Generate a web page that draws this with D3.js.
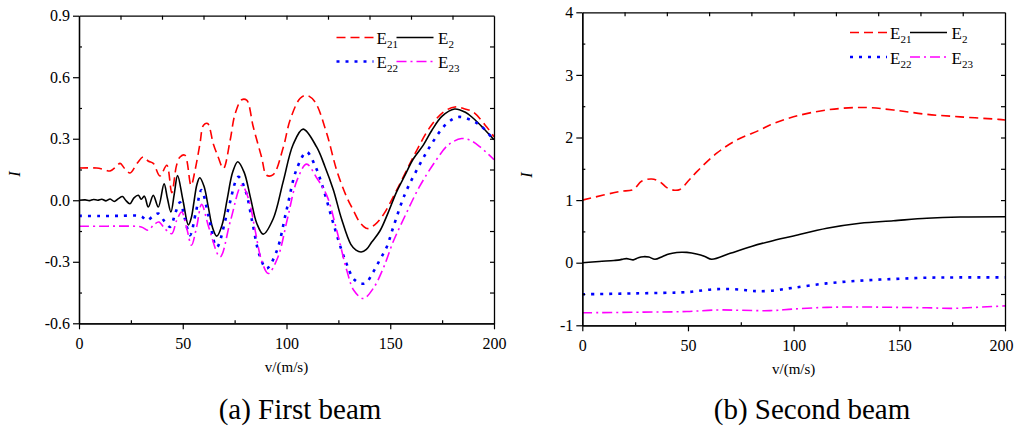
<!DOCTYPE html>
<html><head><meta charset="utf-8">
<script src="https://cdn.jsdelivr.net/npm/d3@7"></script>
<style>body{margin:0;background:#fff}svg{display:block}</style>
</head><body>
<svg id="c" width="1014" height="426"></svg>
<script>
// ---------- Data (v in m/s, I) ----------
const xTicks = [0, 50, 100, 150, 200];
const yTicksA = [-0.6, -0.3, 0.0, 0.3, 0.6, 0.9];
const yTicksB = [-1, 0, 1, 2, 3, 4];
const seriesNames = ["E21", "E2", "E22", "E23"];
const captions = ["(a) First beam", "(b) Second beam"];

// (a) First beam
const aE21 = [[0,0.157],[8.5,0.157],[12,0.15],[15,0.143],[18,0.165],[19.8,0.18],[22,0.155],[24.6,0.133],[28,0.18],[31,0.211],[33.5,0.19],[35.8,0.18],[39,0.118],[42.3,0.171],[44.7,0.037],[47,0.17],[48.7,0.211],[51,0.22],[54,0.073],[56,0.15],[58.3,0.276],[60,0.366],[62,0.374],[64.7,0.276],[67.1,0.21],[69.6,0.155],[72.8,0.29],[75.2,0.42],[78.4,0.49],[80.8,0.488],[84,0.357],[88,0.21],[90.4,0.122],[93.6,0.125],[98.5,0.26],[101.7,0.39],[106.5,0.496],[109.7,0.512],[113.7,0.48],[119.4,0.325],[124.2,0.146],[129,0.016],[132.2,-0.049],[135.5,-0.11],[139,-0.138],[142.5,-0.12],[146.7,-0.07],[153.1,0.049],[161.1,0.211],[169.2,0.357],[175.6,0.43],[181.2,0.455],[186,0.445],[190,0.43],[196.5,0.357],[200,0.309]];
const aE2 = [[0,0],[3,0.002],[5,-0.002],[7,0.004],[9,0],[11,0.005],[13,-0.003],[15,0.006],[17,-0.006],[19,0.008],[21,0.018],[22.5,0.0],[24.5,-0.017],[26.5,0.012],[28.6,0.024],[30,0.005],[31.5,0.02],[33.4,-0.033],[35.8,0.024],[38.2,-0.033],[41,0.08],[42.6,0.01],[44.3,-0.057],[45.9,0.03],[47.5,0.12],[50.1,0.0],[52.7,-0.12],[54.1,-0.086],[55.45,-0.005],[56.8,0.076],[58.2,0.11],[60.25,0.068],[62.3,-0.0325],[64.35,-0.133],[66.4,-0.175],[68.9,-0.122],[71.45,0.0065],[74,0.135],[76.5,0.188],[79.6,0.136],[82.65,0.0115],[85.7,-0.113],[88.8,-0.165],[93.6,-0.09],[98.4,0.091],[103.2,0.272],[108,0.347],[114.5,0.26],[118.5,0.165],[122.6,0.05],[126.5,-0.09],[131,-0.215],[133.5,-0.243],[136,-0.252],[138.5,-0.24],[141,-0.205],[145,-0.15],[149,-0.06],[153,0.04],[157,0.12],[161,0.2],[166,0.27],[170,0.34],[175,0.41],[181,0.445],[186,0.43],[190,0.4],[195,0.35],[200,0.295]];
const aE22 = [[0,-0.076],[10,-0.077],[20,-0.076],[30,-0.078],[32.6,-0.098],[35.5,-0.08],[38.2,-0.065],[41,-0.1],[43.9,-0.13],[46.5,-0.06],[48.7,-0.01],[51,-0.09],[53.5,-0.17],[56.5,-0.05],[59,0.05],[62.5,-0.08],[66.4,-0.228],[71.5,-0.06],[76.8,0.114],[80.2,0.048],[83.6,-0.11],[87,-0.268],[90.4,-0.333],[95.2,-0.25],[100,-0.049],[104.9,0.152],[109.7,0.235],[113.7,0.17],[117.7,0.057],[122.6,-0.114],[128.2,-0.29],[133,-0.39],[137.8,-0.406],[141.8,-0.35],[145,-0.29],[148.3,-0.228],[151.5,-0.13],[157.2,0.033],[163.6,0.163],[170,0.276],[177.2,0.374],[182.8,0.406],[188,0.395],[193.3,0.366],[200,0.293]];
const aE23 = [[0,-0.127],[10,-0.127],[20,-0.126],[30,-0.13],[33.4,-0.146],[36,-0.12],[38.5,-0.106],[41.5,-0.14],[44.7,-0.163],[47,-0.1],[49.5,-0.057],[52,-0.14],[54.2,-0.219],[56.7,-0.13],[59.1,-0.02],[62.5,-0.13],[68,-0.276],[73,-0.1],[78.4,0.073],[81.6,0.01],[84.8,-0.142],[88,-0.294],[91.2,-0.357],[95.8,-0.279],[100.45,-0.09],[105.1,0.098],[109.7,0.176],[114.5,0.11],[119.4,0.024],[124.2,-0.146],[129,-0.34],[132.5,-0.44],[137,-0.479],[141.8,-0.43],[146.7,-0.33],[151.5,-0.2],[157.9,-0.06],[164.3,0.07],[172.4,0.2],[178,0.27],[184.4,0.301],[189,0.29],[193.3,0.26],[200,0.198]];

// (b) Second beam
const bE21 = [[0,1.0],[10,1.08],[18,1.14],[24.2,1.17],[28,1.3],[32.8,1.337],[36.8,1.29],[40,1.2],[43.1,1.16],[46.2,1.17],[50,1.3],[54.1,1.45],[63.6,1.75],[73.1,1.96],[84,2.12],[88.8,2.2],[99.9,2.33],[115.7,2.44],[133,2.48],[147.2,2.44],[163,2.37],[178.8,2.33],[196.9,2.29],[200,2.28]];
const bE2 = [[0,0],[8,0.02],[15,0.035],[17.8,0.045],[19.5,0.06],[21,0.065],[22.5,0.055],[24.1,0.045],[26.5,0.08],[28.9,0.096],[31.5,0.09],[34.4,0.054],[38,0.1],[41,0.14],[44.7,0.163],[47,0.168],[49.5,0.165],[54,0.14],[58,0.1],[61.2,0.054],[70,0.15],[80,0.26],[88.8,0.34],[99.9,0.427],[115.7,0.55],[131.4,0.63],[147.2,0.67],[163,0.71],[178.8,0.73],[200,0.735]];
const bE22 = [[0,-0.505],[25,-0.49],[49.5,-0.47],[55,-0.45],[62,-0.425],[68.2,-0.42],[75,-0.43],[80.9,-0.452],[88.8,-0.45],[99.9,-0.40],[115.7,-0.33],[131.4,-0.287],[147.2,-0.26],[163,-0.24],[178.8,-0.235],[200,-0.235]];
const bE23 = [[0,-0.8],[28.9,-0.79],[49.5,-0.78],[63.6,-0.755],[75,-0.76],[88.8,-0.766],[99.9,-0.74],[115.7,-0.713],[131.4,-0.707],[147.2,-0.713],[163,-0.72],[175,-0.73],[185,-0.715],[200,-0.69]];

// ---------- Styles ----------
const styles = [
  {color:"#ff0000", dash:"9,5", width:1.6},
  {color:"#000000", dash:null, width:1.6},
  {color:"#0000ff", dash:"3,6", width:2.6},
  {color:"#ff00ff", dash:"10,4,2,4", width:1.6}
];
const FONT = "'Liberation Serif','Times New Roman',serif";
const svg = d3.select("#c");
const fmt = d => (d < 0 ? "-" : "") + d3.format(".1f")(Math.abs(d));
const fmtInt = d => (d < 0 ? "-" : "") + Math.abs(d);

function panel(opt){
  const {x, y, yTicks, yFmt, yMinorStep, data, legend, caption, capX, yLabX, yLabY} = opt;
  const g = svg.append("g");
  const [x0, x1] = x.range();
  const [y0, y1] = y.range(); // y0 bottom, y1 top

  // curves
  const clipId = "clip" + Math.round(x0);
  svg.append("clipPath").attr("id", clipId).append("rect")
    .attr("x", x0).attr("y", y1 - 2).attr("width", x1 - x0).attr("height", y0 - y1 + 4);
  const line = d3.line().x(d => x(d[0])).y(d => y(d[1])).curve(d3.curveCatmullRom.alpha(0.5));
  const cg = g.append("g").attr("clip-path", `url(#${clipId})`);
  data.forEach((s, i) => {
    cg.append("path").attr("d", line(s)).attr("fill", "none")
      .attr("stroke", styles[i].color).attr("stroke-width", styles[i].width)
      .attr("stroke-dasharray", styles[i].dash);
  });

  const axStyle = sel => {
    sel.select(".domain").attr("stroke", "#000").attr("stroke-width", 1.3);
    sel.selectAll(".tick line").attr("stroke", "#000").attr("stroke-width", 1.2);
    sel.selectAll("text").attr("font-family", FONT).attr("font-size", 16).attr("fill", "#000");
  };
  // bottom major (outward)
  const xb = g.append("g").attr("transform", `translate(0,${y0})`)
    .call(d3.axisBottom(x).tickValues(xTicks).tickSizeInner(6).tickSizeOuter(0).tickPadding(8).tickFormat(d3.format("d")));
  axStyle(xb);
  // keep the last label inside the picture
  xb.selectAll(".tick text").filter(d => x(d) + 14 > 1014).attr("text-anchor", "end").attr("dx", 1013 - x(200) + "px");
  // bottom minor (inward)
  const xMinor = xTicks.slice(0, -1).map((d, i) => (d + xTicks[i + 1]) / 2);
  axStyle(g.append("g").attr("transform", `translate(0,${y0})`)
    .call(d3.axisBottom(x).tickValues(xMinor).tickSizeInner(-3).tickSizeOuter(0).tickFormat("")));
  // top (inward, every 20)
  axStyle(g.append("g").attr("transform", `translate(0,${y1})`)
    .call(d3.axisTop(x).tickValues(d3.range(20, 200, 20)).tickSizeInner(-4).tickSizeOuter(0).tickFormat("")));
  // left major (outward)
  const yl = g.append("g").attr("transform", `translate(${x0},0)`)
    .call(d3.axisLeft(y).tickValues(yTicks).tickSizeInner(6).tickSizeOuter(0).tickPadding(3).tickFormat(yFmt));
  axStyle(yl);
  const yMinor = yTicks.slice(0, -1).map((d, i) => (d + yTicks[i + 1]) / 2);
  axStyle(g.append("g").attr("transform", `translate(${x0},0)`)
    .call(d3.axisLeft(y).tickValues(yMinor).tickSizeInner(-3).tickSizeOuter(0).tickFormat("")));
  // right (inward)
  const yAll = d3.range(yTicks[0] + yMinorStep, yTicks[yTicks.length - 1] - 1e-9, yMinorStep);
  axStyle(g.append("g").attr("transform", `translate(${x1},0)`)
    .call(d3.axisRight(y).tickValues(yAll).tickSizeInner(-4).tickSizeOuter(0).tickFormat("")));

  // axis titles
  g.append("text").attr("x", (x0 + x1) / 2).attr("y", y0 + 49).attr("text-anchor", "middle")
    .attr("font-family", FONT).attr("font-size", 15).text("v/(m/s)");
  g.append("text").attr("transform", `translate(${yLabX},${yLabY}) rotate(-90)`)
    .attr("text-anchor", "middle").attr("font-family", FONT).attr("font-size", 16)
    .attr("font-style", "italic").text("I");
  g.append("text").attr("x", capX).attr("y", 419).attr("text-anchor", "middle")
    .attr("font-family", FONT).attr("font-size", 29).text(caption);

  // legend
  const L = legend;
  const pos = [
    {lx: L.x, ly: L.y1, tx: L.x + 40, ty: L.t1},
    {lx: L.x + 60, ly: L.y1, tx: L.x + 101.5, ty: L.t1},
    {lx: L.x, ly: L.y2, tx: L.x + 40, ty: L.t2},
    {lx: L.x + 60, ly: L.y2, tx: L.x + 101.5, ty: L.t2}
  ];
  seriesNames.forEach((name, i) => {
    const p = pos[i];
    g.append("line").attr("x1", p.lx).attr("x2", p.lx + 37).attr("y1", p.ly).attr("y2", p.ly)
      .attr("stroke", styles[i].color).attr("stroke-width", styles[i].width)
      .attr("stroke-dasharray", styles[i].dash);
    const t = g.append("text").attr("x", p.tx).attr("y", p.ty).attr("font-family", FONT).attr("font-size", 17);
    t.append("tspan").text(name[0]);
    t.append("tspan").attr("font-size", 11).attr("dy", 4).text(name.slice(1));
  });
}

const xA = d3.scaleLinear([0, 200], [79, 494]);
const yA = d3.scaleLinear([-0.6, 0.9], [323.3, 15.7]);
panel({x: xA, y: yA, yTicks: yTicksA, yFmt: fmt, yMinorStep: 0.15,
  data: [aE21, aE2, aE22, aE23],
  legend: {x: 336.5, y1: 37.5, y2: 61.5, t1: 43.5, t2: 67.5},
  caption: captions[0], capX: 300, yLabX: 20, yLabY: 174});

const xB = d3.scaleLinear([0, 200], [582.3, 1005]);
const yB = d3.scaleLinear([-1, 4], [325.3, 12.3]);
panel({x: xB, y: yB, yTicks: yTicksB, yFmt: fmtInt, yMinorStep: 0.5,
  data: [bE21, bE2, bE22, bE23],
  legend: {x: 850, y1: 32.5, y2: 57, t1: 38.5, t2: 63.5},
  caption: captions[1], capX: 812, yLabX: 532, yLabY: 175});
</script>
</body></html>
